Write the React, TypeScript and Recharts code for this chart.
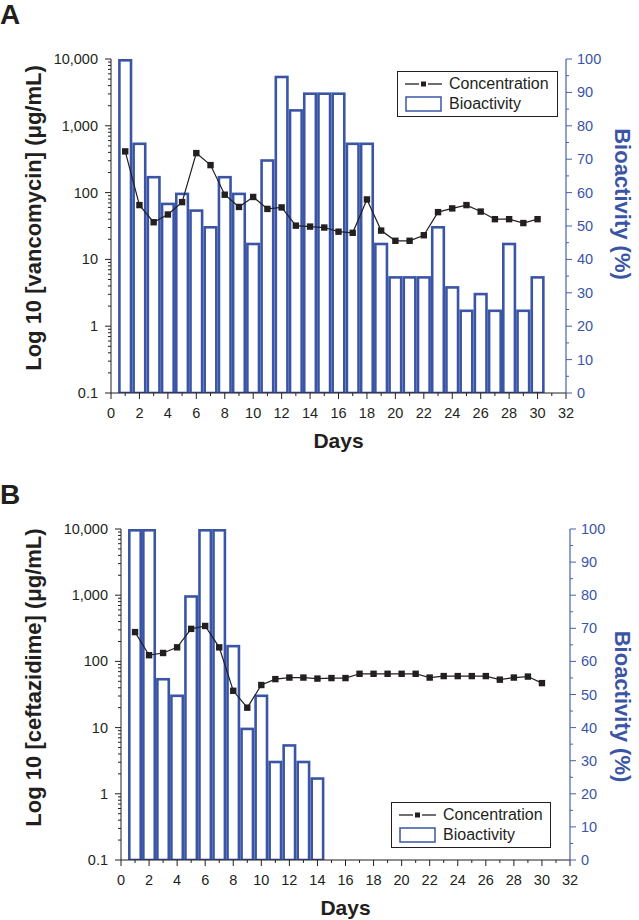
import React from 'react';
import { ComposedChart, Bar, Line, XAxis, YAxis, Legend } from 'recharts';

// days 1..30
const DAYS = [
  1, 2, 3, 4, 5, 6, 7, 8, 9, 10, 11, 12, 13, 14, 15,
  16, 17, 18, 19, 20, 21, 22, 23, 24, 25, 26, 27, 28, 29, 30,
];

// panel A - vancomycin
const VANCO_CONC = [
  414, 65, 36, 47, 72, 390, 258, 93, 61, 86, 57, 60, 32, 31, 30,
  26, 25, 79, 27, 19, 19, 23, 51, 58, 65, 52, 40, 40, 35, 40,
];
const VANCO_BIO = [
  100, 75, 65, 57, 60, 55, 50, 65, 60, 45, 70, 95, 85, 90, 90,
  90, 75, 75, 45, 35, 35, 35, 50, 32, 25, 30, 25, 45, 25, 35,
];

// panel B - ceftazidime
const CEFTA_CONC = [
  277, 124, 134, 163, 310, 343, 163, 36, 20, 44, 54, 57, 57, 55, 56,
  56, 65, 65, 65, 65, 65, 57, 60, 60, 60, 60, 53, 57, 59, 47,
];
const CEFTA_BIO = [100, 100, 55, 50, 80, 100, 100, 65, 40, 50, 30, 35, 30, 25];

const DAY_TICKS = [
  0, 1, 2, 3, 4, 5, 6, 7, 8, 9, 10, 11, 12, 13, 14, 15, 16,
  17, 18, 19, 20, 21, 22, 23, 24, 25, 26, 27, 28, 29, 30, 31, 32,
];
const LOG_MAJOR = [0.1, 1, 10, 100, 1000, 10000];
const BIO_TICKS = [
  0, 5, 10, 15, 20, 25, 30, 35, 40, 45, 50, 55, 60, 65, 70, 75, 80, 85, 90, 95, 100,
];

const LOG_TICKS: number[] = [];
LOG_MAJOR.slice(0, -1).forEach((d) => {
  for (let m = 1; m < 10; m++) LOG_TICKS.push(+(m * d).toPrecision(3));
});
LOG_TICKS.push(10000);

const INK = '#231f20';
const BLUE = '#3a55a6';
const AXIS_BLUE = '#4760ad';
const FONT = '"Liberation Sans", Arial, Helvetica, sans-serif';

const vancoData = DAYS.map((day, i) => ({ day, conc: VANCO_CONC[i], bio: VANCO_BIO[i] }));
const ceftaData = DAYS.map((day, i) => ({
  day,
  conc: CEFTA_CONC[i],
  bio: i < CEFTA_BIO.length ? CEFTA_BIO[i] : null,
}));

const isMajorLog = (v: number) => LOG_MAJOR.some((m) => Math.abs(m - v) < 1e-9);

const LogTick = (p: any) => {
  const v = p.payload.value;
  const major = isMajorLog(v);
  return (
    <g>
      <line x1={p.x} x2={p.x - (major ? 6 : 3)} y1={p.y} y2={p.y} stroke={INK} strokeWidth={1} />
      {major && (
        <text x={p.x - 13} y={p.y + 5} textAnchor="end" fontSize={14.5} fontFamily={FONT} fill={INK}>
          {v.toLocaleString('en-US')}
        </text>
      )}
    </g>
  );
};

const BioTick = (p: any) => {
  const v = p.payload.value;
  const major = v % 10 === 0;
  return (
    <g>
      <line x1={p.x} x2={p.x + (major ? 6 : 3)} y1={p.y} y2={p.y} stroke={AXIS_BLUE} strokeWidth={1} />
      {major && (
        <text x={p.x + 11} y={p.y + 5} textAnchor="start" fontSize={14.5} fontFamily={FONT} fill={BLUE}>
          {v}
        </text>
      )}
    </g>
  );
};

const DayTick = (p: any) => {
  const v = p.payload.value;
  const major = v % 2 === 0;
  const len = major ? 6 : 3;
  return (
    <g>
      <line x1={p.x} x2={p.x} y1={p.y} y2={p.y + len} stroke={INK} strokeWidth={1} />
      {major && p.showLabel && (
        <text x={p.x} y={p.y + 25} textAnchor="middle" fontSize={14.5} fontFamily={FONT} fill={INK}>
          {v}
        </text>
      )}
    </g>
  );
};

const HollowBar = (p: any) => {
  const { x, y, width, height } = p;
  if (!height || height <= 0 || !isFinite(y)) return null;
  const s = 2.6;
  return (
    <rect
      x={x + s / 2}
      y={y + s / 2}
      width={Math.max(width - s, 0)}
      height={Math.max(height - s / 2, 0)}
      fill="#fff"
      stroke={BLUE}
      strokeWidth={s}
    />
  );
};

const SquareDot = (p: any) => (
  <rect key={`dot-${p.index}`} x={p.cx - 3.2} y={p.cy - 3.2} width={6.4} height={6.4} fill={INK} />
);

const sideTitle = (text: string, cx: number, angle: number, color: string, shift: number) =>
  (p: any) => {
    const vb = p.viewBox || {};
    const cy = vb.y + vb.height / 2 + shift;
    return (
      <text
        x={cx}
        y={cy}
        transform={`rotate(${angle}, ${cx}, ${cy})`}
        textAnchor="middle"
        dominantBaseline="central"
        fontSize={22}
        fontWeight="bold"
        fontFamily={FONT}
        fill={color}
      >
        {text}
      </text>
    );
  };

const daysTitle = (p: any) => {
  const vb = p.viewBox || {};
  return (
    <text
      x={vb.x + vb.width / 2}
      y={vb.y + 55}
      textAnchor="middle"
      fontSize={21}
      fontWeight="bold"
      fontFamily={FONT}
      fill={INK}
    >
      Days
    </text>
  );
};

const LegendBox = () => (
  <div
    style={{
      border: `1.3px solid ${INK}`,
      background: '#fff',
      padding: '2px 3px 3px 7px',
      fontFamily: FONT,
      fontSize: 16,
      lineHeight: '19px',
      color: INK,
    }}
  >
    <div style={{ display: 'flex', alignItems: 'center' }}>
      <svg width={37} height={12}>
        <line x1={0} x2={14} y1={6} y2={6} stroke={INK} strokeWidth={1.3} />
        <line x1={23} x2={37} y1={6} y2={6} stroke={INK} strokeWidth={1.3} />
        <rect x={16} y={3.5} width={5} height={5} fill={INK} />
      </svg>
      <span style={{ marginLeft: 7 }}>Concentration</span>
    </div>
    <div style={{ display: 'flex', alignItems: 'center', marginTop: 1 }}>
      <svg width={37} height={16}>
        <rect x={1} y={1} width={35} height={14} fill="#fff" stroke={BLUE} strokeWidth={1.5} />
      </svg>
      <span style={{ marginLeft: 7 }}>Bioactivity</span>
    </div>
  </div>
);

type PanelProps = {
  data: any[];
  leftWidth: number;
  rightWidth: number;
  top: number;
  bottom: number;
  barSize: number;
  title: string;
  titleShift: number;
  bioShift: number;
  legendPos: { left: number; top: number; width: number };
};

function Panel({ data, leftWidth, rightWidth, top, bottom, barSize, title, titleShift, bioShift, legendPos }: PanelProps) {
  return (
    <ComposedChart width={639} height={460} data={data} margin={{ top, right: 0, bottom, left: 0 }}>
      <XAxis
        dataKey="day"
        type="number"
        domain={[0, 32]}
        ticks={DAY_TICKS}
        interval={0}
        allowDataOverflow
        height={45}
        tickSize={0}
        tickMargin={0}
        tickLine={false}
        axisLine={{ stroke: INK, strokeWidth: 1 }}
        tick={(p: any) => <DayTick {...p} showLabel />}
        label={{ content: daysTitle }}
      />
      <XAxis
        xAxisId="top"
        orientation="top"
        dataKey="day"
        type="number"
        domain={[0, 32]}
        ticks={DAY_TICKS}
        interval={0}
        allowDataOverflow
        height={0}
        tickSize={0}
        tickMargin={0}
        tickLine={false}
        axisLine={{ stroke: INK, strokeWidth: 1 }}
        tick={(p: any) => <DayTick {...p} showLabel={false} />}
      />
      <YAxis
        yAxisId="conc"
        scale="log"
        type="number"
        domain={[0.1, 10000]}
        allowDataOverflow
        ticks={LOG_TICKS}
        interval={0}
        width={leftWidth}
        tickSize={0}
        tickMargin={0}
        tickLine={false}
        axisLine={{ stroke: INK, strokeWidth: 1 }}
        tick={(p: any) => <LogTick {...p} />}
        label={{ content: sideTitle(title, 33, -90, INK, titleShift) }}
      />
      <YAxis
        yAxisId="bio"
        orientation="right"
        type="number"
        domain={[0, 100]}
        allowDataOverflow
        ticks={BIO_TICKS}
        interval={0}
        width={rightWidth}
        tickSize={0}
        tickMargin={0}
        tickLine={false}
        axisLine={{ stroke: AXIS_BLUE, strokeWidth: 1.2 }}
        tick={(p: any) => <BioTick {...p} />}
        label={{ content: sideTitle('Bioactivity (%)', 622, 90, BLUE, bioShift) }}
      />
      <Legend
        layout="vertical"
        align="center"
        verticalAlign="middle"
        content={() => <LegendBox />}
        wrapperStyle={{ ...legendPos, position: 'absolute' }}
      />
      <Bar
        yAxisId="bio"
        dataKey="bio"
        name="Bioactivity"
        barSize={barSize}
        shape={(p: any) => <HollowBar {...p} />}
        isAnimationActive={false}
      />
      <Line
        yAxisId="conc"
        dataKey="conc"
        name="Concentration"
        type="linear"
        stroke={INK}
        strokeWidth={1.2}
        dot={(p: any) => <SquareDot {...p} />}
        activeDot={false}
        isAnimationActive={false}
      />
    </ComposedChart>
  );
}

const letterStyle: React.CSSProperties = {
  position: 'absolute',
  left: 0,
  fontFamily: FONT,
  fontWeight: 'bold',
  fontSize: 28,
  lineHeight: '28px',
  color: INK,
};

export default function App() {
  return (
    <div style={{ position: 'absolute', left: 0, top: 0, width: 639, height: 920, background: '#fff' }}>
      <div style={{ ...letterStyle, top: 1 }}>A</div>
      <div style={{ ...letterStyle, top: 481 }}>B</div>
      <div style={{ position: 'absolute', left: 0, top: 0 }}>
        <Panel
          data={vancoData}
          leftWidth={111}
          rightWidth={73}
          top={59}
          bottom={22}
          barSize={14.2}
          title="Log 10 [vancomycin] (μg/mL)"
          titleShift={-8}
          bioShift={-22}
          legendPos={{ left: 397, top: 71, width: 161 }}
        />
      </div>
      <div style={{ position: 'absolute', left: 0, top: 460 }}>
        <Panel
          data={ceftaData}
          leftWidth={121}
          rightWidth={69}
          top={69}
          bottom={15}
          barSize={14}
          title="Log 10 [ceftazidime] (μg/mL)"
          titleShift={-17}
          bioShift={12}
          legendPos={{ left: 391, top: 342, width: 160 }}
        />
      </div>
    </div>
  );
}
